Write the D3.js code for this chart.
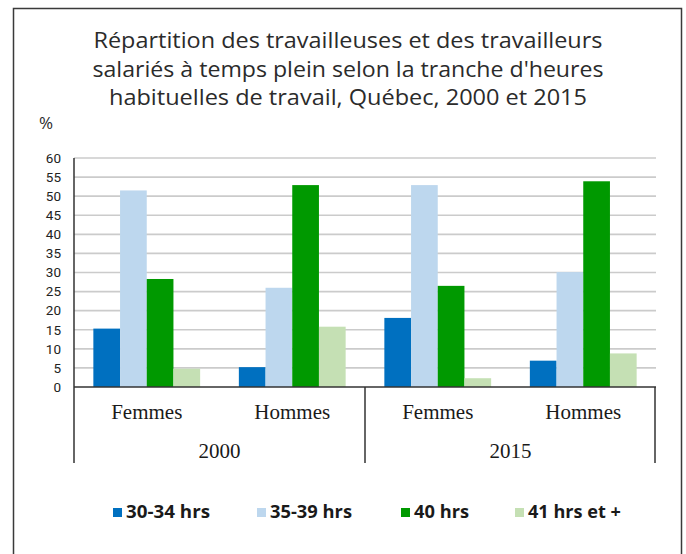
<!DOCTYPE html>
<html>
<head>
<meta charset="utf-8">
<script src="https://cdn.jsdelivr.net/npm/d3@7"></script>
<style>
  html, body { margin: 0; padding: 0; background: #fff; }
  svg { display: block; }
</style>
</head>
<body>
<svg id="chart" width="686" height="554"></svg>
<script>
// ---- Data ----
const titleLines = [
  "Répartition des travailleuses et des travailleurs",
  "salariés à temps plein selon la tranche d'heures",
  "habituelles de travail, Québec, 2000 et 2015"
];
const years = ["2000", "2015"];
const sexes = ["Femmes", "Hommes"];
const seriesNames = ["30-34 hrs", "35-39 hrs", "40 hrs", "41 hrs et +"];
// values per series, in order: 2000 Femmes, 2000 Hommes, 2015 Femmes, 2015 Hommes
const hrs30_34 = [15.3, 5.2, 18.1, 6.9];
const hrs35_39 = [51.5, 26.0, 52.9, 30.1];
const hrs40    = [28.3, 52.9, 26.5, 53.9];
const hrs41plus = [4.8, 15.8, 2.3, 8.8];
const yTicks = [0, 5, 10, 15, 20, 25, 30, 35, 40, 45, 50, 55, 60];
const colors = ["#0070c0", "#bdd7ee", "#009900", "#c5e0b4"];

const seriesValues = [hrs30_34, hrs35_39, hrs40, hrs41plus];
const groups = [];
years.forEach(y => sexes.forEach(s => groups.push(y + "|" + s)));

// ---- Layout ----
const svg = d3.select("#chart");
const plotLeft = 74, plotRight = 656, plotTop = 158, plotBottom = 387;
const axisBottomExt = 463;

// frame
svg.append("rect")
  .attr("x", 13.5).attr("y", 8.5)
  .attr("width", 668).attr("height", 560)
  .attr("fill", "#fff").attr("stroke", "#3a3a3a").attr("stroke-width", 1.5);

// title
const titleW = [509, 511, 478];
const titleY = [48, 77, 105];
svg.append("g").selectAll("text").data(titleLines).join("text")
  .attr("x", 348).attr("y", (d, i) => titleY[i])
  .attr("text-anchor", "middle")
  .attr("font-family", "'Open Sans', 'Noto Sans', sans-serif")
  .attr("font-size", 21.5)
  .attr("fill", "#2b2b2b")
  .attr("textLength", (d, i) => titleW[i])
  .attr("lengthAdjust", "spacingAndGlyphs")
  .text(d => d);

// % label
svg.append("text")
  .attr("x", 39).attr("y", 129)
  .attr("font-family", "'Open Sans', 'Noto Sans', sans-serif")
  .attr("font-size", 17)
  .attr("fill", "#2b2b2b")
  .text("%");

// scales
const y = d3.scaleLinear().domain([0, 60]).range([plotBottom, plotTop]);
const x0 = d3.scaleBand().domain(groups).range([plotLeft, plotRight]).padding(0);
const x1 = d3.scaleBand().domain(seriesNames).range([0, x0.bandwidth()])
  .paddingInner(0).paddingOuter(0.725);

// gridlines
svg.append("g").selectAll("line").data(yTicks.filter(t => t > 0)).join("line")
  .attr("x1", plotLeft).attr("x2", plotRight)
  .attr("y1", d => y(d)).attr("y2", d => y(d))
  .attr("stroke", "#cbcbcb").attr("stroke-width", 1.6);

// y axis
const yAxis = d3.axisLeft(y).tickValues(yTicks).tickSize(0).tickPadding(13);
const gy = svg.append("g").attr("transform", `translate(${plotLeft},0)`).call(yAxis);
gy.select(".domain").remove();
gy.selectAll("text")
  .attr("font-family", "'Liberation Sans Narrow', 'Roboto', sans-serif")
  .attr("font-size", 13.5)
  .attr("fill", "#222");

// bars
const barG = svg.append("g");
seriesNames.forEach((sName, si) => {
  barG.append("g").selectAll("rect").data(seriesValues[si]).join("rect")
    .attr("x", (d, gi) => x0(groups[gi]) + x1(sName))
    .attr("width", x1.bandwidth())
    .attr("y", d => y(d))
    .attr("height", d => y(0) - y(d))
    .attr("fill", colors[si]);
});

// axes lines
svg.append("line")
  .attr("x1", plotLeft).attr("x2", plotRight)
  .attr("y1", plotBottom).attr("y2", plotBottom)
  .attr("stroke", "#333").attr("stroke-width", 1.5);
svg.append("line")
  .attr("x1", plotLeft).attr("x2", plotLeft)
  .attr("y1", plotTop).attr("y2", axisBottomExt)
  .attr("stroke", "#333").attr("stroke-width", 1.5);

// category separators (between years and at end)
const yearBand = d3.scaleBand().domain(years).range([plotLeft, plotRight]).padding(0);
years.forEach(yr => {
  const xr = yearBand(yr) + yearBand.bandwidth();
  svg.append("line")
    .attr("x1", xr - (yr === years[years.length - 1] ? 1 : 0))
    .attr("x2", xr - (yr === years[years.length - 1] ? 1 : 0))
    .attr("y1", plotBottom).attr("y2", axisBottomExt)
    .attr("stroke", "#333").attr("stroke-width", 1.5);
});

// category labels
svg.append("g").selectAll("text").data(groups).join("text")
  .attr("x", d => x0(d) + x0.bandwidth() / 2)
  .attr("y", 419)
  .attr("text-anchor", "middle")
  .attr("font-family", "'Liberation Serif', 'DejaVu Serif', serif")
  .attr("font-size", 21)
  .attr("fill", "#1a1a1a")
  .text(d => d.split("|")[1]);

svg.append("g").selectAll("text").data(years).join("text")
  .attr("x", d => yearBand(d) + yearBand.bandwidth() / 2)
  .attr("y", 458)
  .attr("text-anchor", "middle")
  .attr("font-family", "'Liberation Serif', 'DejaVu Serif', serif")
  .attr("font-size", 21)
  .attr("fill", "#1a1a1a")
  .text(d => d);

// legend
const legendX = [113, 257, 401, 515];
const legendTextW = [84, 82, 55, 93];
const lg = svg.append("g").selectAll("g").data(seriesNames).join("g")
  .attr("transform", (d, i) => `translate(${legendX[i]},0)`);
lg.append("rect")
  .attr("x", 0).attr("y", 508)
  .attr("width", 9).attr("height", 9)
  .attr("fill", (d, i) => colors[i]);
lg.append("text")
  .attr("x", 13).attr("y", 518)
  .attr("font-family", "'Open Sans', 'Noto Sans', sans-serif")
  .attr("font-weight", "bold")
  .attr("font-size", 17)
  .attr("fill", "#1a1a1a")
  .attr("textLength", (d, i) => legendTextW[i])
  .attr("lengthAdjust", "spacingAndGlyphs")
  .text(d => d);
</script>
</body>
</html>
